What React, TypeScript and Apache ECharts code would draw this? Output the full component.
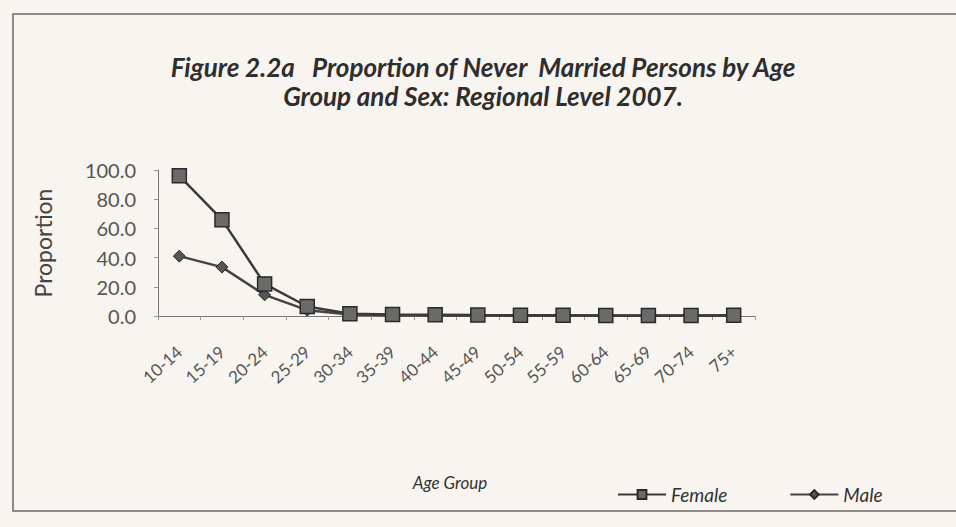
import React, { useEffect, useRef } from "react";
import * as echarts from "echarts";

const ageGroups = ["10-14", "15-19", "20-24", "25-29", "30-34", "35-39", "40-44", "45-49", "50-54", "55-59", "60-64", "65-69", "70-74", "75+"];
const female = [96.0, 66.0, 22.0, 6.5, 1.5, 1.0, 0.8, 0.6, 0.5, 0.5, 0.4, 0.4, 0.4, 0.5];
const male = [41.0, 33.5, 14.5, 4.0, 1.0, 0.5, 0.3, 0.3, 0.2, 0.2, 0.2, 0.2, 0.2, 0.2];
const yTicks = { min: 0, max: 100, interval: 20 };
const titleLines = ["Figure 2.2a   Proportion of Never  Married Persons by Age", "Group and Sex: Regional Level 2007."];

const FONT = "Lato, 'Open Sans', sans-serif";

export default function App() {
  const ref = useRef<HTMLDivElement>(null);
  useEffect(() => {
    if (!ref.current) return;
    const chart = echarts.init(ref.current, null, { renderer: "svg" });
    chart.setOption({
      animation: false,
      backgroundColor: "#f8f4ef",
      textStyle: { fontFamily: FONT },
      graphic: [
        {
          type: "rect",
          shape: { x: 13, y: 14, width: 960, height: 497 },
          style: { fill: "none", stroke: "#6a6a6a", lineWidth: 1.5 },
          silent: true,
        },
        {
          type: "text",
          x: 483,
          y: 52,
          style: {
            text: titleLines.join("\n"),
            fontFamily: FONT,
            fontSize: 26,
            fontWeight: "bold",
            fontStyle: "italic",
            fill: "#2e2e2e",
            align: "center",
            lineHeight: 29,
          },
        },
        {
          type: "text",
          x: 450,
          y: 482,
          style: {
            text: "Age Group",
            fontFamily: FONT,
            fontSize: 17,
            fontStyle: "italic",
            fill: "#333",
            align: "center",
            verticalAlign: "middle",
          },
        },
      ],
      legend: {
        left: 612,
        top: 480,
        itemWidth: 48,
        itemHeight: 11,
        itemGap: 62,
        textStyle: { fontFamily: FONT, fontSize: 19, fontStyle: "italic", color: "#333" },
        data: ["Female", "Male"],
      },
      grid: { left: 158, right: 201, top: 170, bottom: 211, containLabel: false },
      xAxis: {
        type: "category",
        data: ageGroups,
        boundaryGap: true,
        axisLine: { lineStyle: { color: "#777", width: 1 } },
        axisTick: { show: true, length: 4, lineStyle: { color: "#999" } },
        axisLabel: { rotate: 42, margin: 33, fontSize: 17, color: "#555", fontFamily: FONT },
      },
      yAxis: {
        type: "value",
        min: yTicks.min,
        max: yTicks.max,
        interval: yTicks.interval,
        name: "Proportion",
        nameLocation: "middle",
        nameGap: 104,
        nameRotate: 90,
        nameTextStyle: { fontSize: 23, color: "#444", fontFamily: FONT },
        axisLine: { show: true, lineStyle: { color: "#777", width: 1 } },
        axisTick: { show: true, length: 4, lineStyle: { color: "#999" } },
        splitLine: { show: false },
        axisLabel: {
          fontSize: 20,
          color: "#555",
          margin: 22,
          fontFamily: FONT,
          formatter: (v: number) => v.toFixed(1),
        },
      },
      series: [
        {
          name: "Female",
          type: "line",
          data: female,
          symbol: "rect",
          symbolSize: 14,
          lineStyle: { color: "#3a3a3a", width: 2.5 },
          itemStyle: { color: "#6a6a6a", borderColor: "#2a2a2a", borderWidth: 1.5 },
          z: 3,
        },
        {
          name: "Male",
          type: "line",
          data: male,
          symbol: "diamond",
          symbolSize: 12,
          lineStyle: { color: "#444", width: 2.5 },
          itemStyle: { color: "#555", borderColor: "#2a2a2a", borderWidth: 1 },
          z: 2,
        },
      ],
    });
    return () => chart.dispose();
  }, []);
  return <div ref={ref} style={{ width: 956, height: 527, position: "absolute", left: 0, top: 0 }} />;
}
